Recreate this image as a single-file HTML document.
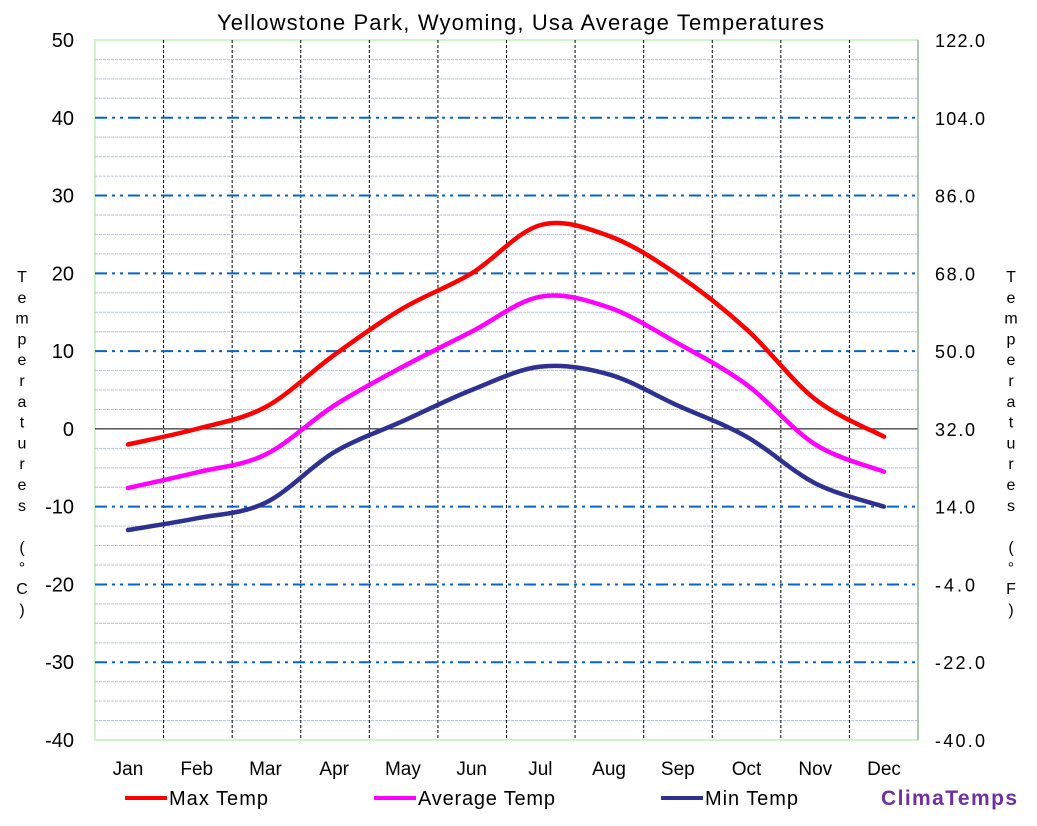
<!DOCTYPE html>
<html><head><meta charset="utf-8"><style>
body{margin:0;background:#fff;width:1037px;height:821px;overflow:hidden}
svg{font-family:"Liberation Sans",sans-serif}
</style></head><body>
<svg id="s" width="1037" height="821" xmlns="http://www.w3.org/2000/svg"></svg>
<script>
const s=document.getElementById('s');
const L=95,R=918,T=40,B=740;
const y=v=>T+(50-v)*(B-T)/90;
const xm=i=>128+i*(884-128)/11;
let h='';
h+=`<rect x="${L}" y="${T}" width="${R-L}" height="${B-T}" fill="#fff" stroke="#ccf5c8" stroke-width="2"/>`;
for(let v=-37.5;v<50;v+=2.5){if(v%10===0)continue;h+=`<line x1="${L}" x2="${R}" y1="${y(v)}" y2="${y(v)}" stroke="#b8c8e0" stroke-width="1" stroke-dasharray="3,1"/>`;}
for(let i=1;i<12;i++){const x=L+i*(R-L)/12;h+=`<line x1="${x}" x2="${x}" y1="${T}" y2="${B}" stroke="#000" stroke-width="1" stroke-dasharray="3,2"/>`;}
for(let v=-30;v<=40;v+=10){if(v===0)continue;h+=`<line x1="${L}" x2="${R}" y1="${y(v)}" y2="${y(v)}" stroke="#0a64c8" stroke-width="2" stroke-dasharray="12,5,3,5,3,5"/>`;}
h+=`<line x1="${L}" x2="${R}" y1="${y(0)}" y2="${y(0)}" stroke="#000" stroke-width="1"/>`;
h+=`<line x1="${R}" x2="${R}" y1="${T}" y2="${B}" stroke="#999" stroke-width="1"/>`;
for(let v=-40;v<=50;v+=10){h+=`<text x="74" y="${y(v)+7}" font-size="20" text-anchor="end">${v}</text>`;
const f=(v*1.8+32).toFixed(1);h+=`<text x="935" y="${y(v)+7}" font-size="18" textLength="${f.length*10}">${f}</text>`;}
const mn=['Jan','Feb','Mar','Apr','May','Jun','Jul','Aug','Sep','Oct','Nov','Dec'];
mn.forEach((m,i)=>h+=`<text x="${xm(i)}" y="775" font-size="19" text-anchor="middle">${m}</text>`);
h+=`<text x="217" y="30" font-size="22" textLength="607">Yellowstone Park, Wyoming, Usa Average  Temperatures</text>`;
const lc="Temperatures (°C)".split(''),lf="Temperatures (°F)".split('');
let yy=282;lc.forEach(c=>{h+=`<text x="22" y="${yy}" font-size="16" text-anchor="middle">${c}</text>`;yy+=20.8;});
yy=282;lf.forEach(c=>{h+=`<text x="1011" y="${yy}" font-size="16" text-anchor="middle">${c}</text>`;yy+=20.8;});
function path(d,col){const p=d.map((v,i)=>[xm(i),y(v)]);let s=`M${p[0][0]},${p[0][1]}`;
for(let i=0;i<p.length-1;i++){const p0=p[i-1]||p[i],p1=p[i],p2=p[i+1],p3=p[i+2]||p2;
const c1=[p1[0]+(p2[0]-p0[0])/6,p1[1]+(p2[1]-p0[1])/6],c2=[p2[0]-(p3[0]-p1[0])/6,p2[1]-(p3[1]-p1[1])/6];
s+=` C${c1[0]},${c1[1]} ${c2[0]},${c2[1]} ${p2[0]},${p2[1]}`;}
return `<path d="${s}" fill="none" stroke="${col}" stroke-width="4.5" stroke-linejoin="round" stroke-linecap="round"/>`;}
h+=path([-13,-11.5,-9.5,-3,1,5,8,7,3,-1,-7,-10],'#2e3192');
h+=path([-7.6,-5.6,-3.3,3,8,12.5,17,15.6,11,5.7,-2,-5.5],'#ff00ff');
h+=path([-2,0,2.8,9.5,15.5,20,26.2,24.8,19.8,12.8,3.8,-1],'#ff0000');
[[125,'#ff0000','Max Temp',99],[374,'#ff00ff','Average Temp',137],[661,'#2e3192','Min Temp',93]].forEach(([x,c,t,w])=>{
h+=`<line x1="${x}" x2="${x+42}" y1="798" y2="798" stroke="${c}" stroke-width="4"/><text x="${x+44}" y="805" font-size="20" textLength="${w}">${t}</text>`;});
h+=`<text x="881" y="805" font-size="21" font-weight="bold" fill="#7030a0" textLength="136">ClimaTemps</text>`;
s.innerHTML=h;
</script>
</body></html>
